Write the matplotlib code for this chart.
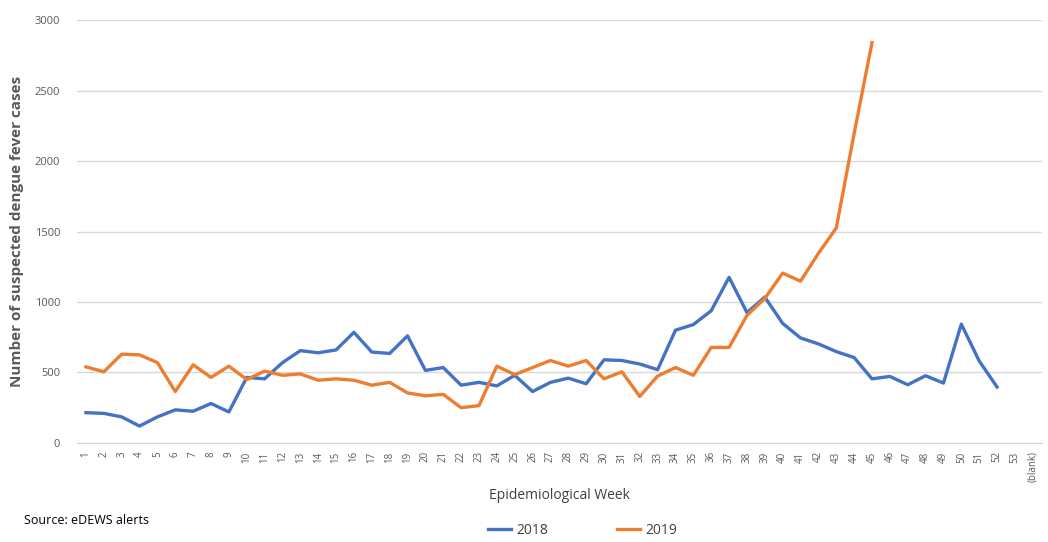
import matplotlib.pyplot as plt
import numpy as np

weeks = [str(w) for w in range(1, 54)] + ['(blank)']

cases_2018 = [215, 210, 185, 120, 185, 235, 225, 280, 220, 465,
              455, 570, 655, 640, 660, 785, 645, 635, 760, 515,
              535, 410, 430, 405, 480, 365, 430, 460, 420, 590,
              585, 560, 520, 800, 840, 938, 1175, 925, 1035, 848,
              745, 703, 648, 606, 455, 472, 413, 477, 425, 843,
              582, 397]

cases_2019 = [540, 505, 630, 625, 570, 365, 555, 465, 545, 450,
              510, 480, 490, 445, 455, 445, 410, 430, 355, 335,
              345, 250, 265, 545, 485, 535, 585, 545, 585, 455,
              505, 330, 475, 535, 480, 678, 678, 905, 1025, 1205,
              1148, 1345, 1525, 2195, 2840]

grey = '#595959'
plt.rcParams['font.family'] = ['Open Sans', 'DejaVu Sans']

fig = plt.figure(figsize=(10.48, 5.42), dpi=100)
ax = fig.add_axes([0.0735, 0.1827, 0.9205, 0.7803])

x = np.arange(len(weeks))
ax.plot(x[:len(cases_2018)], cases_2018, color='#4472C4', lw=2.4, label='2018')
ax.plot(x[:len(cases_2019)], cases_2019, color='#ED7D31', lw=2.4, label='2019')

ax.set_xlim(-0.5, len(weeks) - 0.5)
ax.set_ylim(0, 3000)
ax.set_yticks(range(0, 3001, 500))
ax.set_xticks(x)
ax.set_xticklabels(weeks, rotation=90, fontsize=7, color=grey)
ax.tick_params(axis='y', labelsize=8, colors=grey, length=0, pad=12)
ax.tick_params(axis='x', length=0, pad=6)
ax.grid(axis='y', color='#D9D9D9', lw=1)
ax.set_axisbelow(True)
for s in ['top', 'right', 'left']:
    ax.spines[s].set_visible(False)
ax.spines['bottom'].set_color('#D9D9D9')

ax.set_ylabel('Number of suspected dengue fever cases', fontsize=11,
              fontweight='bold', color=grey, labelpad=8)
ax.set_xlabel('Epidemiological Week', fontsize=10, color='#404040', labelpad=4)

fig.text(0.023, 0.04, 'Source: eDEWS alerts', fontsize=9, color='black', va='center')
fig.legend(loc='center', bbox_to_anchor=(0.556, 0.022), ncol=2, frameon=False,
           fontsize=10, handlelength=1.6, handletextpad=0.4, columnspacing=5.0,
           labelcolor='#404040', borderpad=0.1)

fig.savefig('out.png', dpi=100)
